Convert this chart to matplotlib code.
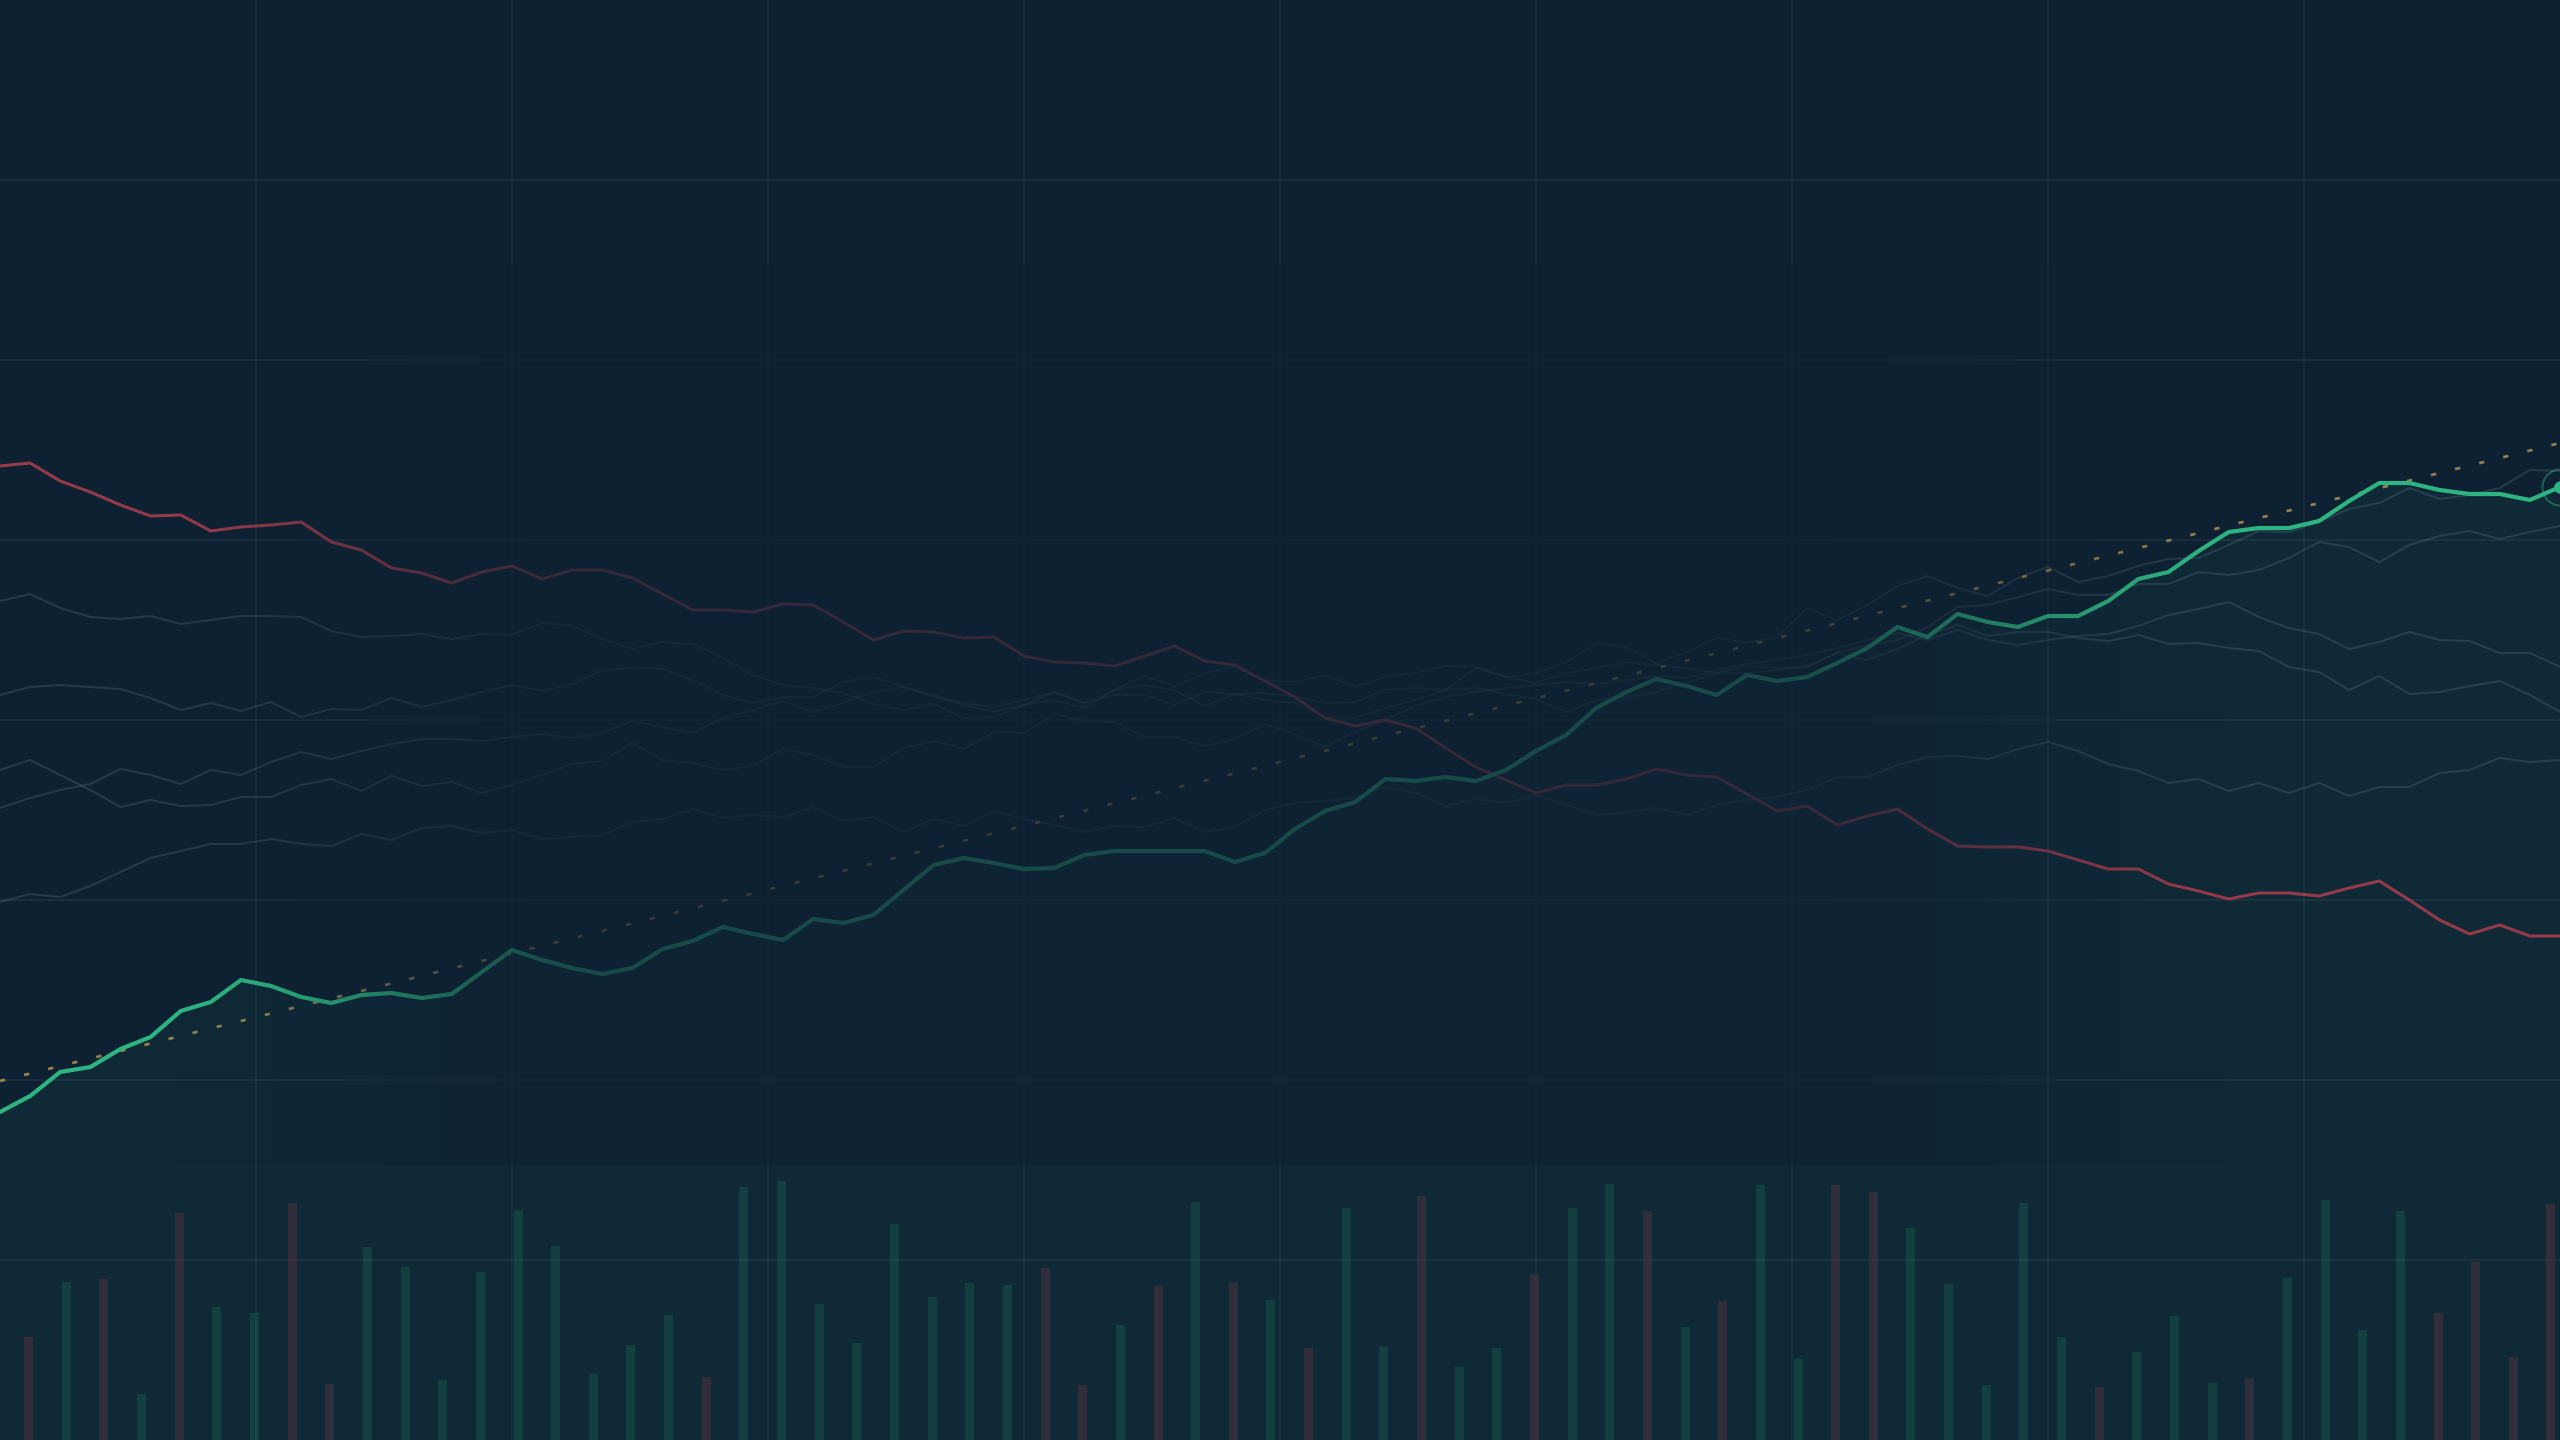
import matplotlib
matplotlib.use('Agg')
import matplotlib.pyplot as plt
import numpy as np
from matplotlib.colors import to_rgb, to_rgba
from matplotlib.patches import Rectangle

WIDTH_PX, HEIGHT_PX, DPI = 2560, 1440, 100
VOLUME_PX = 275

BG = '#0e2133'
PANEL_BG = '#0f2936'
GREEN = '#2eb480'
RED = '#943a49'
GREY = '#7d93a8'
GOLD = '#c9a455'

# closing prices, one value per session (86 sessions)
green = [32.8, 34.4, 36.8, 37.3, 39.1, 40.3, 42.9, 43.8, 46.0, 45.4,
         44.3, 43.7, 44.5, 44.7, 44.2, 44.6, 46.8, 49.0, 48.0, 47.2,
         46.6, 47.2, 49.1, 49.9, 51.3, 50.6, 50.0, 52.1, 51.7, 52.5,
         55.0, 57.5, 58.2, 57.7, 57.1, 57.2, 58.5, 58.9, 58.9, 58.9,
         58.9, 57.8, 58.7, 61.1, 62.9, 63.8, 66.1, 65.9, 66.3, 65.9,
         67.0, 68.9, 70.5, 73.2, 74.8, 76.1, 75.4, 74.5, 76.5, 75.9,
         76.3, 77.7, 79.2, 81.3, 80.3, 82.6, 81.8, 81.3, 82.4, 82.4,
         83.9, 86.1, 86.8, 88.9, 90.8, 91.2, 91.2, 91.9, 93.9, 95.7,
         95.7, 95.0, 94.6, 94.6, 94.0, 95.3]

red = [97.4, 97.7, 95.9, 94.8, 93.5, 92.4, 92.5, 90.9, 91.3, 91.5,
       91.8, 89.8, 89.0, 87.2, 86.7, 85.7, 86.8, 87.4, 86.1, 87.0,
       87.0, 86.2, 84.6, 83.0, 83.0, 82.8, 83.6, 83.5, 81.8, 80.0,
       80.9, 80.8, 80.2, 80.3, 78.4, 77.8, 77.7, 77.4, 78.4, 79.4,
       77.9, 77.5, 75.9, 74.3, 72.2, 71.4, 72.0, 71.2, 69.2, 67.3,
       66.0, 64.7, 65.5, 65.5, 66.1, 67.1, 66.5, 66.3, 64.6, 62.9,
       63.4, 61.5, 62.4, 63.1, 61.1, 59.4, 59.3, 59.3, 58.9, 58.0,
       57.1, 57.1, 55.6, 54.9, 54.1, 54.7, 54.7, 54.4, 55.2, 55.9,
       54.0, 52.0, 50.6, 51.5, 50.4, 50.4]

peer_a = [83.9, 84.6, 83.2, 82.3, 82.1, 82.4, 81.6, 82.0, 82.4, 82.4,
          82.3, 80.9, 80.3, 80.4, 80.6, 80.1, 80.6, 80.5, 81.7, 81.4,
          80.1, 79.1, 79.8, 79.6, 78.2, 76.5, 75.5, 75.2, 74.7, 73.6,
          73.0, 73.6, 72.2, 72.3, 73.5, 74.8, 73.7, 74.5, 74.5, 73.5,
          74.8, 74.6, 74.0, 73.7, 72.3, 72.2, 73.2, 74.0, 75.0, 77.2,
          76.3, 76.7, 77.8, 79.7, 79.3, 77.7, 78.8, 80.2, 79.7, 80.3,
          83.2, 82.0, 83.5, 85.4, 86.4, 85.2, 84.4, 86.2, 87.3, 85.8,
          86.4, 87.4, 88.1, 88.2, 89.5, 90.9, 90.8, 91.8, 93.1, 93.7,
          95.2, 94.1, 94.5, 95.2, 97.0, 96.9]

peer_b = [74.5, 75.3, 75.5, 75.3, 75.1, 74.2, 73.0, 73.7, 72.9, 73.8,
          72.3, 73.1, 73.0, 74.2, 73.3, 74.0, 74.8, 75.5, 74.9, 75.6,
          77.0, 77.2, 77.1, 76.0, 74.5, 73.7, 74.3, 74.3, 75.8, 76.3,
          75.3, 74.3, 73.7, 73.3, 74.0, 74.8, 73.7, 75.0, 75.5, 75.0,
          73.4, 74.6, 74.7, 74.3, 73.7, 73.8, 75.0, 75.2, 75.0, 75.2,
          74.6, 74.1, 72.8, 74.0, 74.3, 74.8, 75.7, 76.7, 76.7, 77.0,
          77.3, 78.7, 79.5, 80.0, 81.3, 83.3, 83.5, 84.3, 85.1, 84.5,
          84.5, 85.6, 85.6, 86.8, 86.5, 87.0, 88.2, 89.8, 89.3, 87.8,
          89.5, 90.4, 90.9, 90.1, 90.8, 91.4]

peer_c = [67.0, 68.0, 66.5, 65.0, 63.3, 64.0, 63.4, 63.5, 64.3, 64.3,
          65.5, 66.1, 64.9, 66.4, 65.4, 65.8, 64.7, 65.5, 66.5, 67.6,
          67.9, 69.7, 68.0, 67.7, 67.0, 67.4, 69.1, 68.5, 67.3, 67.3,
          69.2, 69.9, 69.1, 70.8, 70.7, 72.6, 71.9, 71.8, 70.3, 70.3,
          69.4, 70.1, 71.6, 70.6, 69.3, 70.8, 72.0, 73.4, 74.3, 74.8,
          75.2, 75.5, 75.8, 75.6, 76.0, 76.4, 76.2, 77.0, 77.6, 78.0,
          78.5, 79.2, 80.0, 80.7, 80.0, 81.0, 80.0, 79.5, 80.0, 80.4,
          80.6, 81.4, 82.5, 83.1, 83.8, 82.3, 81.2, 80.6, 79.1, 79.8,
          80.8, 80.0, 79.9, 78.7, 78.7, 77.3]

peer_d = [63.2, 64.2, 65.0, 65.6, 67.1, 66.5, 65.6, 67.0, 66.5, 67.8,
          68.8, 68.1, 68.9, 69.6, 70.1, 70.1, 69.9, 70.3, 70.6, 70.2,
          70.7, 71.9, 71.3, 70.7, 72.2, 73.0, 73.9, 72.8, 73.7, 74.8,
          75.3, 74.5, 73.5, 72.8, 73.5, 74.0, 73.2, 75.0, 76.4, 75.4,
          76.7, 77.3, 76.0, 75.8, 76.5, 75.3, 76.3, 76.7, 77.4, 77.3,
          76.3, 75.7, 76.7, 77.2, 77.8, 77.5, 77.2, 76.7, 77.4, 77.2,
          77.4, 78.7, 78.0, 79.1, 80.5, 81.5, 80.4, 80.8, 80.8, 80.2,
          79.9, 80.5, 79.6, 79.7, 79.2, 78.9, 77.3, 76.8, 75.0, 76.4,
          74.6, 74.8, 75.4, 75.9, 74.5, 72.8]

peer_e = [53.8, 54.6, 54.3, 55.4, 56.8, 58.2, 58.9, 59.6, 59.6, 60.1,
          59.6, 59.4, 60.6, 60.0, 61.2, 61.4, 60.7, 61.0, 60.1, 60.3,
          60.5, 61.8, 62.1, 63.1, 62.2, 62.5, 62.3, 63.3, 61.9, 62.3,
          60.8, 62.1, 61.4, 62.9, 62.1, 61.5, 60.8, 61.4, 61.3, 62.2,
          60.8, 61.3, 63.0, 63.7, 63.9, 64.2, 65.3, 64.7, 63.4, 64.1,
          63.7, 64.5, 63.5, 62.5, 62.8, 63.2, 62.5, 63.5, 64.0, 64.3,
          65.0, 66.3, 66.3, 67.5, 68.3, 68.4, 68.1, 69.1, 69.8, 68.9,
          67.6, 66.9, 65.7, 66.1, 64.9, 65.7, 64.7, 65.7, 64.4, 65.3,
          65.3, 66.7, 67.0, 68.2, 67.8, 68.0]

# linear trend of the green series, first and last session
trend = [35.9, 99.7]

# traded volume, 68 buckets, and whether the bucket closed up
volume = [37.5, 57.5, 58.5, 16.7, 82.5, 48.4, 46.2, 86.2, 20.4, 70.2,
          62.9, 21.8, 61.1, 83.6, 70.5, 24.0, 34.5, 45.5, 22.9, 92.0,
          94.2, 49.5, 35.3, 78.5, 52.0, 57.1, 56.4, 62.5, 20.0, 41.8,
          56.0, 86.5, 57.5, 50.9, 33.5, 84.4, 34.2, 88.7, 26.5, 33.5,
          60.4, 84.4, 93.1, 83.3, 41.1, 50.5, 92.7, 29.5, 92.7, 90.2,
          77.1, 56.7, 20.0, 86.2, 37.5, 19.3, 32.0, 45.1, 20.7, 22.5,
          58.9, 87.3, 40.0, 83.3, 46.2, 64.7, 30.2, 85.8]
volume_up = [0, 1, 0, 1, 0, 1, 1, 0, 0, 1,
             1, 1, 1, 1, 1, 1, 1, 1, 0, 1,
             1, 1, 1, 1, 1, 1, 1, 0, 0, 1,
             0, 1, 0, 1, 0, 1, 1, 0, 1, 1,
             0, 1, 1, 0, 1, 0, 1, 1, 0, 0,
             1, 1, 1, 1, 1, 0, 1, 1, 1, 0,
             1, 1, 1, 1, 0, 0, 0, 0]

PRICE_LIM = (27.5, 144.0)
SHADE_TOP = 117.7


def smoothstep(e0, e1, t):
    u = np.clip((t - e0) / (e1 - e0), 0.0, 1.0)
    return u * u * (3 - 2 * u)


def draw_backdrop(fig):
    ax = fig.add_axes([0, 0, 1, 1])
    ax.set_xlim(0, 10)
    ax.set_ylim(0, 8)
    ax.axis('off')
    ax.add_patch(Rectangle((0, 0), 10, VOLUME_PX / 180, color=PANEL_BG, lw=0))
    for x in range(1, 10):
        ax.axvline(x, color='white', alpha=0.035, lw=1.4)
    for y in range(1, 8):
        ax.axhline(y, color='white', alpha=0.05, lw=1.4)


def draw_prices(fig):
    bottom = VOLUME_PX / HEIGHT_PX
    ax = fig.add_axes([0, bottom, 1, 1 - bottom])
    ax.set_facecolor('none')
    ax.axis('off')
    xs = np.arange(len(green))

    for peer in [peer_a, peer_b, peer_c, peer_d, peer_e]:
        ax.plot(xs, peer, color=GREY, alpha=0.22, lw=1.45, solid_joinstyle='round')
    ax.plot(xs, red, color=RED, lw=2.2, solid_joinstyle='round')
    ax.fill_between(xs, green, PRICE_LIM[0], color=GREEN, alpha=0.06, lw=0)
    ax.plot([xs[0], xs[-1]], trend, color=GOLD, alpha=0.75, lw=1.9, ls=(0, (2.0, 7.4)))
    ax.plot(xs, green, color=GREEN, lw=3.0, solid_joinstyle='round', solid_capstyle='round')

    # dark veil over the middle of the price area, clear at both ends
    t = np.linspace(0, 1, 640)
    veil = 0.72 * smoothstep(0.06, 0.235, t) * (1 - smoothstep(0.685, 0.88, t))
    img = np.zeros((1, t.size, 4))
    img[..., :3] = to_rgb(BG)
    img[..., 3] = veil
    ax.imshow(img, extent=(xs[0], xs[-1], PRICE_LIM[0], SHADE_TOP), aspect='auto',
              interpolation='nearest', zorder=5)

    ax.plot(xs[-1], green[-1], 'o', ms=26, mfc='none', mec=GREEN, mew=1.4, alpha=0.45, zorder=6)
    ax.plot(xs[-1], green[-1], 'o', ms=8, color=GREEN, zorder=7)
    ax.set_xlim(xs[0], xs[-1])
    ax.set_ylim(*PRICE_LIM)


def draw_volume(fig):
    ax = fig.add_axes([0, 0, 1, VOLUME_PX / HEIGHT_PX])
    ax.set_facecolor('none')
    ax.axis('off')
    pos = np.arange(len(volume))
    colors = [to_rgba(GREEN, 0.16) if up else to_rgba(RED, 0.26) for up in volume_up]
    ax.bar(pos, volume, width=0.24, color=colors, lw=0)
    ax.set_xlim(-0.76, len(volume) - 0.76)
    ax.set_ylim(0, 100)


def main():
    fig = plt.figure(figsize=(WIDTH_PX / DPI, HEIGHT_PX / DPI), dpi=DPI)
    fig.patch.set_facecolor(BG)
    draw_backdrop(fig)
    draw_prices(fig)
    draw_volume(fig)
    fig.savefig('out.png', dpi=DPI, facecolor=BG)


if __name__ == '__main__':
    main()
